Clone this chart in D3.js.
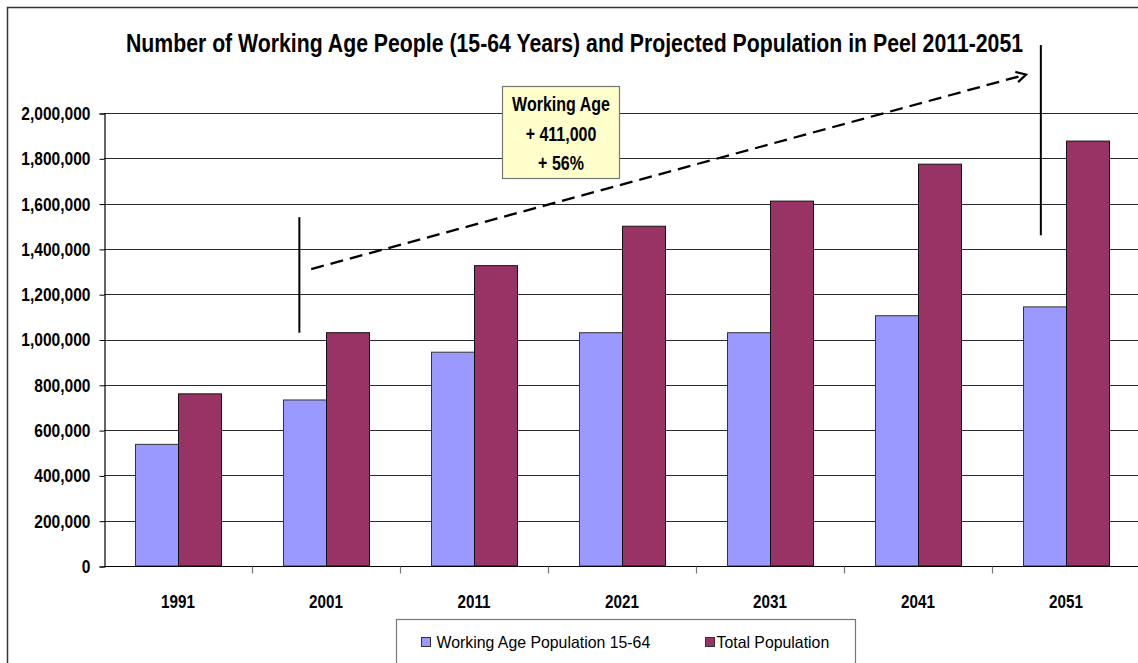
<!DOCTYPE html>
<html>
<head>
<meta charset="utf-8">
<script src="https://cdn.jsdelivr.net/npm/d3@7"></script>
<style>
  html, body { margin: 0; padding: 0; background: #fff; }
  svg { display: block; font-family: "Liberation Sans", Arial, sans-serif; }
</style>
</head>
<body>
<svg id="chart" width="1138" height="663"></svg>
<script>
// ---- data ----
const years = ["1991", "2001", "2011", "2021", "2031", "2041", "2051"];
const workingAge = [537000, 733000, 944000, 1030000, 1030000, 1105000, 1144000];
const totalPop = [760000, 1030000, 1326000, 1500000, 1611000, 1774000, 1876000];
const seriesNames = ["Working Age Population 15-64", "Total Population"];
const seriesColors = ["#9999FF", "#993366"];
const yTicks = [0, 200000, 400000, 600000, 800000, 1000000, 1200000, 1400000, 1600000, 1800000, 2000000];
const titleText = "Number of Working Age People (15-64 Years) and Projected Population in Peel 2011-2051";
const calloutLines = ["Working Age", "+ 411,000", "+ 56%"];

// change in working-age population between the two marked years
const fromYear = "2001", toYear = "2051";

const svg = d3.select("#chart");

// narrow face: squeeze each label horizontally
function condense(sel, k) {
  sel.each(function () {
    const w = this.getComputedTextLength();
    d3.select(this).attr("textLength", w * k).attr("lengthAdjust", "spacingAndGlyphs");
  });
}

// outer frame
svg.append("rect")
  .attr("x", 7.5).attr("y", 7.5)
  .attr("width", 1200).attr("height", 700)
  .attr("fill", "none").attr("stroke", "#333").attr("stroke-width", 1.5);

const plot = { left: 104, right: 1140, top: 113, bottom: 566 };

const x0 = d3.scaleBand().domain(years).range([plot.left, plot.right]).padding(0);
const x1 = d3.scaleBand().domain(seriesNames).range([0, x0.bandwidth()])
  .paddingInner(0).paddingOuter(0.721);
const y = d3.scaleLinear().domain([0, 2000000]).range([plot.bottom, plot.top]);

// title
svg.append("text")
  .attr("x", 574.5).attr("y", 52)
  .attr("text-anchor", "middle")
  .attr("font-size", 25).attr("font-weight", "bold").attr("fill", "#000")
  .text(titleText)
  .call(condense, 0.85);

// gridlines
svg.append("g").selectAll("line")
  .data(yTicks.filter(d => d > 0))
  .join("line")
  .attr("x1", plot.left).attr("x2", plot.right)
  .attr("y1", d => Math.round(y(d)) + 0.5).attr("y2", d => Math.round(y(d)) + 0.5)
  .attr("stroke", "#2a2a2a").attr("stroke-width", 1);

// bars
const rows = years.map((yr, i) => ({ year: yr, values: [workingAge[i], totalPop[i]] }));
const groups = svg.append("g").selectAll("g")
  .data(rows).join("g")
  .attr("transform", d => `translate(${x0(d.year)},0)`);
groups.selectAll("rect")
  .data(d => d.values.map((v, j) => ({ name: seriesNames[j], value: v, color: seriesColors[j] })))
  .join("rect")
  .attr("x", d => x1(d.name) + 0.5)
  .attr("y", d => y(d.value))
  .attr("width", x1.bandwidth())
  .attr("height", d => y(0) - y(d.value))
  .attr("fill", d => d.color)
  .attr("stroke", (d, j) => j === 0 ? "#333" : "#111")
  .attr("stroke-width", 1);

// y axis
const yAxis = svg.append("g")
  .attr("transform", `translate(${plot.left + 0.5},0.5)`)
  .call(d3.axisLeft(y).tickValues(yTicks).tickFormat(d3.format(",")).tickSize(5).tickPadding(9));
yAxis.select(".domain").attr("stroke", "#000").attr("stroke-width", 1.2);
yAxis.selectAll(".tick line").attr("stroke", "#000");
yAxis.selectAll(".tick text")
  .attr("font-family", "Liberation Sans, Arial, sans-serif")
  .attr("font-size", 18.5).attr("font-weight", "bold").attr("fill", "#000")
  .call(condense, 0.84);

// x axis
const xAxis = svg.append("g")
  .attr("transform", `translate(0,${plot.bottom + 0.5})`);
xAxis.append("line")
  .attr("x1", plot.left).attr("x2", plot.right)
  .attr("stroke", "#000").attr("stroke-width", 1.2);
xAxis.selectAll("line.tick")
  .data(years.slice(1).concat(["end"]))
  .join("line").attr("class", "tick")
  .attr("x1", d => d === "end" ? plot.right : x0(d) + 0.5)
  .attr("x2", d => d === "end" ? plot.right : x0(d) + 0.5)
  .attr("y1", 0).attr("y2", 7)
  .attr("stroke", "#777").attr("stroke-width", 1.2);
xAxis.selectAll("text")
  .data(years).join("text")
  .attr("x", d => x0(d) + x0.bandwidth() / 2)
  .attr("y", 41)
  .attr("text-anchor", "middle")
  .attr("font-size", 19).attr("font-weight", "bold").attr("fill", "#000")
  .text(d => d)
  .call(condense, 0.8);

// markers at the compared years
const markers = [
  { year: fromYear, frac: 0.32, top: 1540000, bottom: 1030000 },
  { year: toYear, frac: 0.33, top: 2300000, bottom: 1460000 }
];
svg.append("g").selectAll("line")
  .data(markers).join("line")
  .attr("x1", d => x0(d.year) + d.frac * x0.bandwidth())
  .attr("x2", d => x0(d.year) + d.frac * x0.bandwidth())
  .attr("y1", d => y(d.top)).attr("y2", d => y(d.bottom))
  .attr("stroke", "#000").attr("stroke-width", 2);

// growth arrow
const arrowFrom = { year: fromYear, frac: 0.4, value: 1311000 };
const arrowTo = { year: toYear, frac: 0.23, value: 2170000 };
const ax1 = x0(arrowFrom.year) + arrowFrom.frac * x0.bandwidth();
const ay1 = y(arrowFrom.value);
const ax2 = x0(arrowTo.year) + arrowTo.frac * x0.bandwidth();
const ay2 = y(arrowTo.value);
svg.append("line")
  .attr("x1", ax1).attr("y1", ay1).attr("x2", ax2 - 4).attr("y2", ay2 + 1.1)
  .attr("stroke", "#000").attr("stroke-width", 2.3)
  .attr("stroke-dasharray", "13,7");
const ang = Math.atan2(ay2 - ay1, ax2 - ax1);
const head = 11, spread = 0.5;
svg.append("path")
  .attr("d", `M${ax2 - head * Math.cos(ang - spread)},${ay2 - head * Math.sin(ang - spread)}` +
             `L${ax2},${ay2}` +
             `L${ax2 - head * Math.cos(ang + spread)},${ay2 - head * Math.sin(ang + spread)}`)
  .attr("fill", "none").attr("stroke", "#000").attr("stroke-width", 2.2)
  .attr("stroke-linejoin", "miter");

// callout box
const callout = svg.append("g");
callout.append("rect")
  .attr("x", 502.5).attr("y", 86.5).attr("width", 117).attr("height", 92)
  .attr("fill", "#FFFFCC").attr("stroke", "#777").attr("stroke-width", 1.2);
callout.selectAll("text")
  .data(calloutLines).join("text")
  .attr("x", 561)
  .attr("y", (d, i) => 111 + i * 29.5)
  .attr("text-anchor", "middle")
  .attr("font-size", 20).attr("font-weight", "bold").attr("fill", "#000")
  .text(d => d)
  .call(condense, 0.8);

// legend
const legend = svg.append("g");
legend.append("rect")
  .attr("x", 396.5).attr("y", 619.5).attr("width", 459).attr("height", 60)
  .attr("fill", "#fff").attr("stroke", "#777").attr("stroke-width", 1.2);
const legendItems = [
  { name: seriesNames[0], color: seriesColors[0], sx: 421.5, tx: 436.5 },
  { name: seriesNames[1], color: seriesColors[1], sx: 705.5, tx: 716.5 }
];
legend.selectAll("rect.sw")
  .data(legendItems).join("rect").attr("class", "sw")
  .attr("x", d => d.sx).attr("y", 637.5).attr("width", 9).attr("height", 9)
  .attr("fill", d => d.color).attr("stroke", "#333").attr("stroke-width", 1);
legend.selectAll("text")
  .data(legendItems).join("text")
  .attr("x", d => d.tx).attr("y", 648)
  .attr("font-size", 16.5).attr("fill", "#000")
  .text(d => d.name)
  .call(condense, 0.96);
</script>
</body>
</html>
